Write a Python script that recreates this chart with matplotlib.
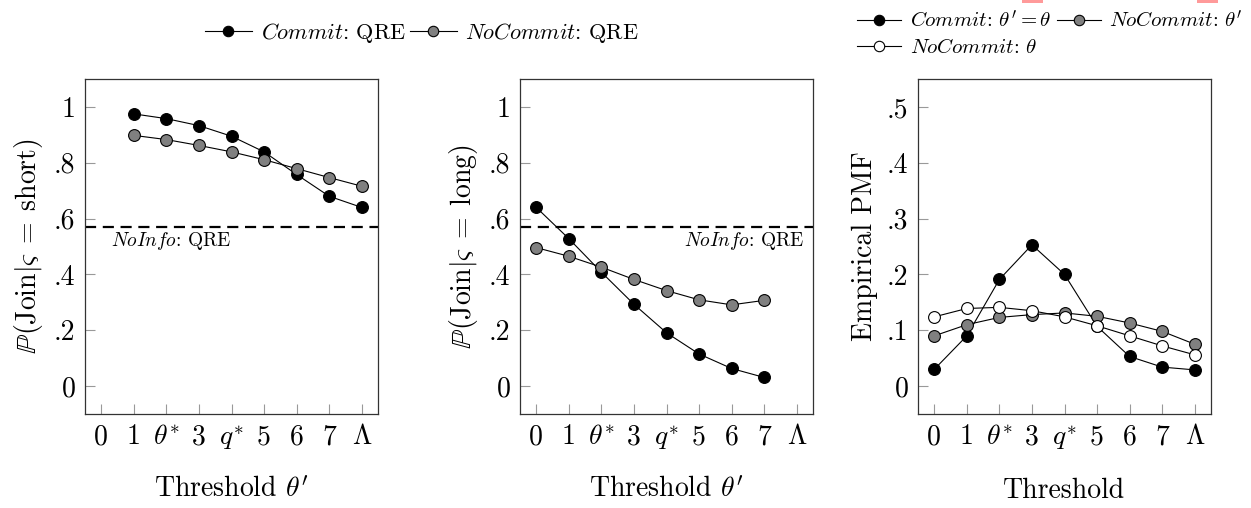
import matplotlib
matplotlib.use("Agg")
from matplotlib import pyplot as plt
from matplotlib.lines import Line2D
from matplotlib.patches import Rectangle

plt.rcParams['font.family'] = 'serif'
plt.rcParams['font.serif'] = ['cmr10']
plt.rcParams['mathtext.fontset'] = 'cm'
plt.rcParams['axes.unicode_minus'] = False

# tick labels shared by all panels
xTickLabels = ['0', '1', r'$\theta^{\!*}$', '3', r'$q^{\!*}$', '5', '6', '7', r'$\Lambda$']

# panel 1: P(Join | short), thresholds 1..8
shortX = [1, 2, 3, 4, 5, 6, 7, 8]
shortCommit = [0.975, 0.958, 0.933, 0.895, 0.839, 0.758, 0.680, 0.640]
shortNoCommit = [0.898, 0.883, 0.862, 0.839, 0.811, 0.779, 0.747, 0.716]

# panel 2: P(Join | long), thresholds 0..7
longX = [0, 1, 2, 3, 4, 5, 6, 7]
longCommit = [0.640, 0.528, 0.408, 0.293, 0.191, 0.115, 0.063, 0.031]
longNoCommit = [0.496, 0.465, 0.426, 0.382, 0.342, 0.309, 0.291, 0.307]

# no-info QRE reference level
noInfoQre = 0.570

# panel 3: empirical PMF of thresholds
pmfX = [0, 1, 2, 3, 4, 5, 6, 7, 8]
pmfCommit = [0.030, 0.090, 0.191, 0.253, 0.200, 0.107, 0.053, 0.034, 0.029]
pmfNoCommitThetaPrime = [0.090, 0.110, 0.123, 0.128, 0.131, 0.125, 0.113, 0.098, 0.075]
pmfNoCommitTheta = [0.124, 0.139, 0.141, 0.135, 0.124, 0.108, 0.090, 0.072, 0.056]

GRAY = '#808080'


def styleAxes(ax, yticks, yticklabels, ylim):
    ax.set_xlim(-0.5, 8.5)
    ax.set_ylim(*ylim)
    ax.set_xticks(range(9))
    ax.set_xticklabels(xTickLabels)
    ax.set_yticks(yticks)
    ax.set_yticklabels(yticklabels)
    ax.tick_params(direction='in', length=7, width=0.8, color='0.6',
                   labelsize=20, pad=7)
    for s in ax.spines.values():
        s.set_linewidth(0.9)
        s.set_color('0.2')


def series(ax, x, y, face):
    ax.plot(x, y, color='black', lw=0.8, marker='o', markersize=8.5,
            markerfacecolor=face, markeredgecolor='black', markeredgewidth=0.8)


fig = plt.figure(figsize=(12.51, 5.08), dpi=100)
W, H = 1251.0, 508.0
bottom = 1 - 414 / H
height = (414 - 79) / H
width = 293 / W

ax1 = fig.add_axes([85 / W, bottom, width, height])
ax2 = fig.add_axes([520 / W, bottom, width, height])
ax3 = fig.add_axes([918 / W, bottom, width, height])

probTicks = [0, 0.2, 0.4, 0.6, 0.8, 1.0]
probLabels = ['0', '.2', '.4', '.6', '.8', '1']

# panel 1
ax1.axhline(noInfoQre, color='black', lw=1.6, ls=(0, (5, 3)))
series(ax1, shortX, shortCommit, 'black')
series(ax1, shortX, shortNoCommit, GRAY)
ax1.text(0.3, 0.518, r'$\mathit{NoInfo}$: QRE', fontsize=14, va='center', ha='left')
styleAxes(ax1, probTicks, probLabels, (-0.1, 1.1))
ax1.set_ylabel(r'$\mathbb{P}(\mathrm{Join}|\varsigma\;=\;\mathrm{short})$', fontsize=20, labelpad=6)
ax1.set_xlabel(r"Threshold $\theta'$", fontsize=20, labelpad=18)

# panel 2
ax2.axhline(noInfoQre, color='black', lw=1.6, ls=(0, (5, 3)))
series(ax2, longX, longCommit, 'black')
series(ax2, longX, longNoCommit, GRAY)
ax2.text(8.22, 0.518, r'$\mathit{NoInfo}$: QRE', fontsize=14, va='center', ha='right')
styleAxes(ax2, probTicks, probLabels, (-0.1, 1.1))
ax2.set_ylabel(r'$\mathbb{P}(\mathrm{Join}|\varsigma\;=\;\mathrm{long})$', fontsize=20, labelpad=6)
ax2.set_xlabel(r"Threshold $\theta'$", fontsize=20, labelpad=18)

# panel 3
series(ax3, pmfX, pmfCommit, 'black')
series(ax3, pmfX, pmfNoCommitThetaPrime, GRAY)
series(ax3, pmfX, pmfNoCommitTheta, 'white')
styleAxes(ax3, [0, 0.1, 0.2, 0.3, 0.4, 0.5],
          ['0', '.1', '.2', '.3', '.4', '.5'], (-0.05, 0.55))
ax3.set_ylabel('Empirical PMF', fontsize=20, labelpad=6)
ax3.set_xlabel('Threshold', fontsize=20, labelpad=18)


def handle(face):
    return Line2D([], [], color='black', lw=0.8, marker='o', markersize=7.5,
                  markerfacecolor=face, markeredgecolor='black', markeredgewidth=0.8)


# legend for the two probability panels
fig.legend([handle('black'), handle(GRAY)],
           [r'$\mathit{Commit}$: QRE', r'$\mathit{NoCommit}$: QRE'],
           loc='center', bbox_to_anchor=(422 / W, 1 - 33 / H), ncol=2,
           frameon=False, fontsize=16, handlelength=2.1, handletextpad=0.4,
           columnspacing=0.2, borderpad=0)

# legend for the PMF panel (order chosen so that rows read as in the paper)
fig.legend([handle('black'), handle('white'), handle(GRAY)],
           [r"$\mathit{Commit}$: $\theta' = \theta$", r'$\mathit{NoCommit}$: $\theta$',
            r"$\mathit{NoCommit}$: $\theta'$"],
           loc='upper left', bbox_to_anchor=(847 / W, 1 + 1 / H), ncol=2,
           frameon=False, fontsize=15, handlelength=2.1, handletextpad=0.4,
           columnspacing=0.3, labelspacing=0.35, borderpad=0)

# link-box remnants at the top edge
for x0, x1 in [(1022, 1043), (1197, 1218)]:
    fig.patches.append(Rectangle((x0 / W, 1 - 2.5 / H), (x1 - x0) / W, 2.5 / H,
                                 transform=fig.transFigure, facecolor='#ff9a9a',
                                 edgecolor='none'))

fig.savefig('out.png', dpi=100)
